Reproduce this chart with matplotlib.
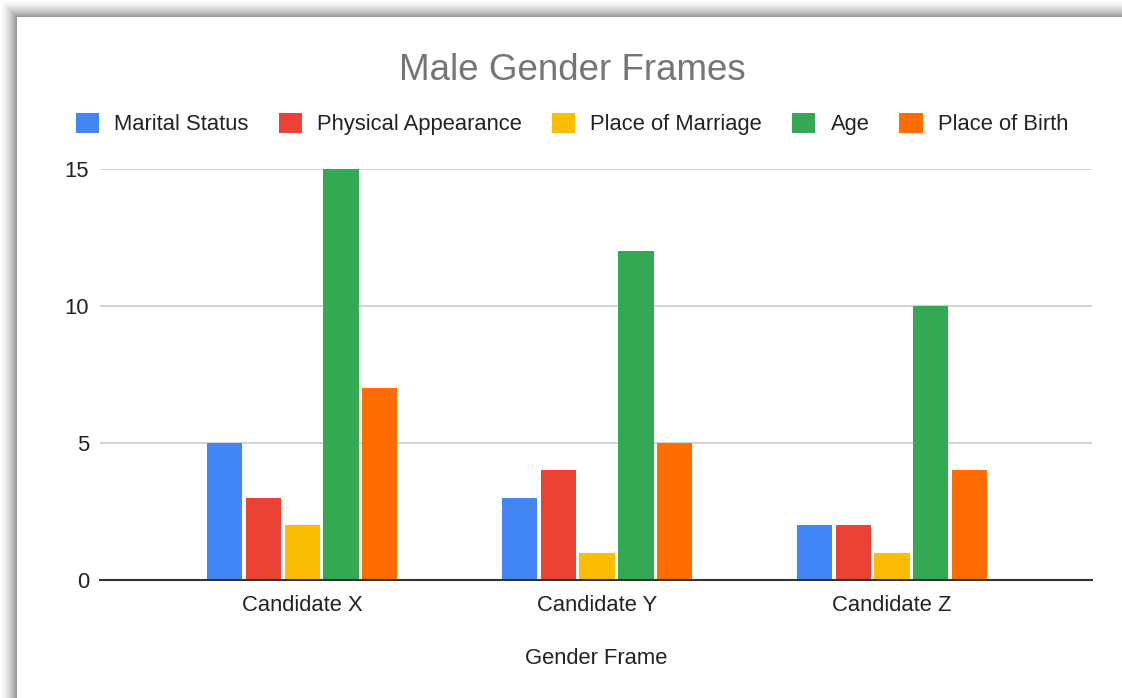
import matplotlib
matplotlib.use("Agg")
import matplotlib.pyplot as plt
import numpy as np
from matplotlib.patches import Rectangle

plt.rcParams['font.family'] = ['Liberation Sans', 'DejaVu Sans']

categories = ["Candidate X", "Candidate Y", "Candidate Z"]
series_names = ["Marital Status", "Physical Appearance", "Place of Marriage", "Age", "Place of Birth"]
marital_status = [5, 3, 2]
physical_appearance = [3, 4, 2]
place_of_marriage = [2, 1, 1]
age = [15, 12, 10]
place_of_birth = [7, 5, 4]
series_values = [marital_status, physical_appearance, place_of_marriage, age, place_of_birth]
colors = ["#4285F4", "#EA4335", "#FBBC04", "#34A853", "#FF6D01"]
yticks = [0, 5, 10, 15]

W, H = 1122, 698
fig = plt.figure(figsize=(W / 100, H / 100), dpi=100)
fig.patch.set_facecolor("white")

# shadow + card
n = 17
for i in range(n):
    t = (i / (n - 1)) ** 1.5
    g = 1.0 - t * (1.0 - 0.6)
    fig.patches.append(Rectangle((i / W, 0), 1 - i / W, 1 - i / H, transform=fig.transFigure,
                                 facecolor=(g, g, g), edgecolor="none", zorder=-10 + i * 0.01))
fig.patches.append(Rectangle((17 / W, 0), 1, 1 - 17 / H, transform=fig.transFigure,
                             facecolor="white", edgecolor="none", zorder=-5))

ax = fig.add_axes([100 / W, 118 / H, 992 / W, 411 / H])
ax.set_facecolor("none")

x = np.arange(len(categories))
slot = 0.132
bw = 0.119
for i, (name, vals, c) in enumerate(zip(series_names, series_values, colors)):
    ax.bar(x + (i - 2) * slot, vals, width=bw, color=c, label=name, zorder=3)

ax.set_xlim(-0.685, 2.678)
ax.set_ylim(0, 15)
ax.set_yticks(yticks)
ax.set_yticklabels([str(v) for v in yticks])
ax.set_xticks(x)
ax.set_xticklabels(categories)
ax.grid(axis="y", color="#cccccc", linewidth=1.2, zorder=0)
for s in ["top", "right", "left"]:
    ax.spines[s].set_visible(False)
ax.spines["bottom"].set_color("#333333")
ax.spines["bottom"].set_linewidth(1.5)
ax.spines["bottom"].set_zorder(4)
fs = 15.8
ax.tick_params(axis="both", length=0, labelsize=fs, labelcolor="#222222")
ax.tick_params(axis="y", pad=8)
ax.tick_params(axis="x", pad=11)
ax.set_xlabel("Gender Frame", fontsize=fs, color="#222222", labelpad=23)

fig.text(572 / W, 1 - 70 / H, "Male Gender Frames", ha="center", va="center",
         fontsize=26.5, color="#757575")

handles, labels = ax.get_legend_handles_labels()
leg = fig.legend(handles, labels, loc="center", bbox_to_anchor=(572 / W, 1 - 124 / H), ncol=5,
                 frameon=False, fontsize=fs, handlelength=1.05, handleheight=1.05,
                 handletextpad=0.7, columnspacing=1.37, labelcolor="#222222")

fig.savefig("out.png", dpi=100, facecolor="white")
